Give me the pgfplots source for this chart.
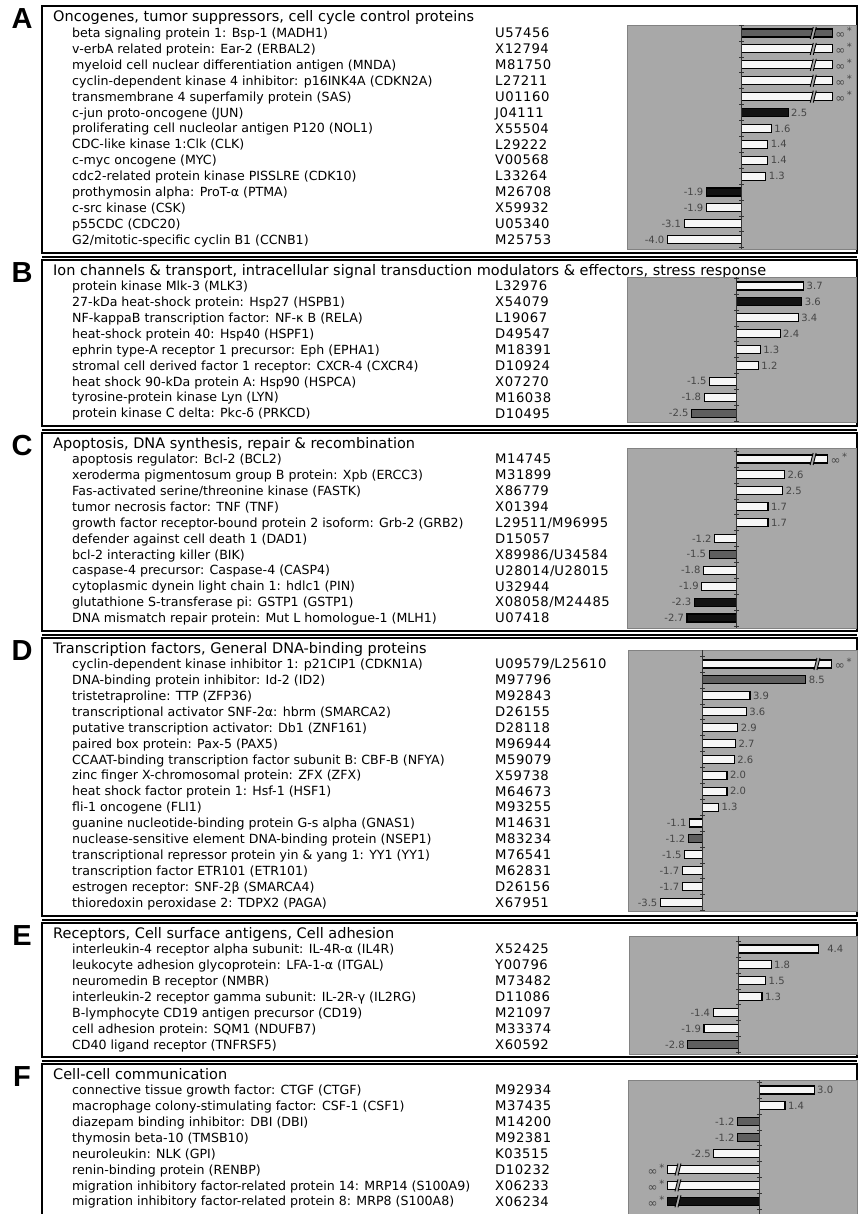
\documentclass[border=0pt]{standalone}
\usepackage{pgfplots}
\pgfplotsset{compat=1.18}
\usepackage{fontspec}
\setmainfont{DejaVu Sans}
\newfontfamily\accfont[LetterSpace=4]{DejaVu Sans}
\newfontfamily\letfont{Liberation Sans}
\definecolor{bg}{RGB}{168,168,168}
\definecolor{bgedge}{RGB}{130,130,130}
\definecolor{bwhite}{RGB}{246,246,246}
\definecolor{bgray}{RGB}{95,95,95}
\definecolor{bblack}{RGB}{18,18,18}
\definecolor{lbl}{RGB}{70,70,70}
\newcommand{\rowfont}{\fontsize{12.6}{14}\selectfont}
\newcommand{\accfnt}{\accfont\fontsize{13.2}{14}\selectfont}
\newcommand{\hdfont}{\fontsize{14.5}{16}\selectfont}
\newcommand{\infl}{{\fontsize{12}{12}\selectfont ∞}\,\raisebox{4pt}{*}}
\newcommand{\infr}{\raisebox{4pt}{*}\,{\fontsize{12}{12}\selectfont ∞}}
\pgfplotsset{
 panel/.style={anchor=north west, scale only axis, clip=false, xbar, bar width=8pt, bar shift=0pt,
   y dir=reverse, xtick=\empty, ytick=\empty,
   axis line style={draw=bgedge, line width=0.7pt},
   axis background/.style={fill=bg},
   nodes near coords, point meta=explicit symbolic,
   every node near coord/.append style={font=\fontsize{10}{10}\selectfont, text=lbl, inner sep=2.5pt}},
 wb/.style={fill=bwhite, draw=black, line width=1.1pt},
 gb/.style={fill=bgray, draw=black, line width=1.1pt},
 kb/.style={fill=bblack, draw=black, line width=1.1pt},
 R/.style={every node near coord/.append style={anchor=west}},
 L/.style={every node near coord/.append style={anchor=east}},
}
% zero line: ymin, ymax, tick list, tick half-length (data units)
\newcommand{\zl}[4]{\draw[line width=0.7pt, black!80] (axis cs:0,#1) -- (axis cs:0,#2);
  \pgfplotsinvokeforeach{#3}{\draw[line width=0.5pt, black!80] (axis cs:-#4,##1) -- (axis cs:#4,##1);}}
\newcommand{\brk}[2]{\fill[bg] (axis cs:#1,#2) ++(-3pt,-6pt) -- ++(3pt,12pt) -- ++(3pt,0pt) -- ++(-3pt,-12pt) -- cycle;
  \draw[line width=0.9pt] (axis cs:#1,#2) ++(-3pt,-6pt) -- ++(3pt,12pt) ++(3pt,0pt) -- ++(-3pt,-12pt);}
\begin{document}
\begin{tikzpicture}
\useasboundingbox (0,0) rectangle (861pt,-1214pt);
\begin{scope}[x=1pt,y=-1pt]
% panel boxes
\foreach \t/\b in {6/253, 260/426, 433/631, 638/916, 923/1057, 1064/1240}{
  \draw[line width=1.3pt] (42,\t) rectangle (857,\b);
  \draw[line width=1.3pt] (42,\b+4) -- (857,\b+4);
}
% letters
\foreach \l/\h in {A/18, B/272, C/445, D/650, E/935, F/1076}{
  \node[anchor=center, inner sep=0, text height=20.8pt, text depth=0pt, font=\letfont\bfseries\fontsize{29}{29}\selectfont] at (22,\h) {\l};
}
\tikzset{hd/.style={anchor=west, inner sep=0, text height=10.5pt, text depth=0pt, font=\hdfont},
         rw/.style={anchor=west, inner sep=0, text height=9.2pt, text depth=0pt, font=\rowfont},
         ac/.style={anchor=west, inner sep=0, text height=9.6pt, text depth=0pt, font=\accfnt}}
% headers
\node[hd] at (53,16) {Oncogenes, tumor suppressors, cell cycle control proteins};
\node[hd] at (53,270) {Ion channels \& transport, intracellular signal transduction modulators \& effectors, stress response};
\node[hd] at (53,443) {Apoptosis, DNA synthesis, repair \& recombination};
\node[hd] at (53,648) {Transcription factors, General DNA-binding proteins};
\node[hd] at (53,933) {Receptors, Cell surface antigens, Cell adhesion};
\node[hd] at (53,1074) {Cell-cell communication};
% panel A rows
\foreach \g/\a [count=\i] in {
 {beta signaling protein 1: Bsp-1 (MADH1)}/U57456,
 {v-erbA related protein: Ear-2 (ERBAL2)}/X12794,
 {myeloid cell nuclear differentiation antigen (MNDA)}/M81750,
 {cyclin-dependent kinase 4 inhibitor: p16INK4A (CDKN2A)}/L27211,
 {transmembrane 4 superfamily protein (SAS)}/U01160,
 {c-jun proto-oncogene (JUN)}/J04111,
 {proliferating cell nucleolar antigen P120 (NOL1)}/X55504,
 {CDC-like kinase 1:Clk (CLK)}/L29222,
 {c-myc oncogene (MYC)}/V00568,
 {cdc2-related protein kinase PISSLRE (CDK10)}/L33264,
 {prothymosin alpha: ProT-α (PTMA)}/M26708,
 {c-src kinase (CSK)}/X59932,
 {p55CDC (CDC20)}/U05340,
 {G2/mitotic-specific cyclin B1 (CCNB1)}/M25753}{
 \node[rw] at (72,{33+15.9*(\i-1)}) {\g};
 \node[ac] at (495,{33+15.9*(\i-1)}) {\a};
}
% panel B rows
\foreach \g/\a [count=\i] in {
 {protein kinase Mlk-3 (MLK3)}/L32976,
 {27-kDa heat-shock protein: Hsp27 (HSPB1)}/X54079,
 {NF-kappaB transcription factor: NF-κ B (RELA)}/L19067,
 {heat-shock protein 40: Hsp40 (HSPF1)}/D49547,
 {ephrin type-A receptor 1 precursor: Eph (EPHA1)}/M18391,
 {stromal cell derived factor 1 receptor: CXCR-4 (CXCR4)}/D10924,
 {heat shock 90-kDa protein A: Hsp90 (HSPCA)}/X07270,
 {tyrosine-protein kinase Lyn (LYN)}/M16038,
 {protein kinase C delta: Pkc-δ (PRKCD)}/D10495}{
 \node[rw] at (72,{286+15.9*(\i-1)}) {\g};
 \node[ac] at (495,{286+15.9*(\i-1)}) {\a};
}
% panel C rows
\foreach \g/\a [count=\i] in {
 {apoptosis regulator: Bcl-2 (BCL2)}/M14745,
 {xeroderma pigmentosum group B protein: Xpb (ERCC3)}/M31899,
 {Fas-activated serine/threonine kinase (FASTK)}/X86779,
 {tumor necrosis factor: TNF (TNF)}/X01394,
 {growth factor receptor-bound protein 2 isoform: Grb-2 (GRB2)}/L29511\slash M96995,
 {defender against cell death 1 (DAD1)}/D15057,
 {bcl-2 interacting killer (BIK)}/X89986\slash U34584,
 {caspase-4 precursor: Caspase-4 (CASP4)}/U28014\slash U28015,
 {cytoplasmic dynein light chain 1: hdlc1 (PIN)}/U32944,
 {glutathione S-transferase pi: GSTP1 (GSTP1)}/X08058\slash M24485,
 {DNA mismatch repair protein: Mut L homologue-1 (MLH1)}/U07418}{
 \node[rw] at (72,{459+15.9*(\i-1)}) {\g};
 \node[ac] at (495,{459+15.9*(\i-1)}) {\a};
}
% panel D rows
\foreach \g/\a [count=\i] in {
 {cyclin-dependent kinase inhibitor 1: p21CIP1 (CDKN1A)}/U09579\slash L25610,
 {DNA-binding protein inhibitor: Id-2 (ID2)}/M97796,
 {tristetraproline: TTP (ZFP36)}/M92843,
 {transcriptional activator SNF-2α: hbrm (SMARCA2)}/D26155,
 {putative transcription activator: Db1 (ZNF161)}/D28118,
 {paired box protein: Pax-5 (PAX5)}/M96944,
 {CCAAT-binding transcription factor subunit B: CBF-B (NFYA)}/M59079,
 {zinc finger X-chromosomal protein: ZFX (ZFX)}/X59738,
 {heat shock factor protein 1: Hsf-1 (HSF1)}/M64673,
 {fli-1 oncogene (FLI1)}/M93255,
 {guanine nucleotide-binding protein G-s alpha (GNAS1)}/M14631,
 {nuclease-sensitive element DNA-binding protein (NSEP1)}/M83234,
 {transcriptional repressor protein yin \& yang 1: YY1 (YY1)}/M76541,
 {transcription factor ETR101 (ETR101)}/M62831,
 {estrogen receptor: SNF-2β (SMARCA4)}/D26156,
 {thioredoxin peroxidase 2: TDPX2 (PAGA)}/X67951}{
 \node[rw] at (72,{664+15.9*(\i-1)}) {\g};
 \node[ac] at (495,{664+15.9*(\i-1)}) {\a};
}
% panel E rows
\foreach \g/\a [count=\i] in {
 {interleukin-4 receptor alpha subunit: IL-4R-α (IL4R)}/X52425,
 {leukocyte adhesion glycoprotein: LFA-1-α (ITGAL)}/Y00796,
 {neuromedin B receptor (NMBR)}/M73482,
 {interleukin-2 receptor gamma subunit: IL-2R-γ (IL2RG)}/D11086,
 {B-lymphocyte CD19 antigen precursor (CD19)}/M21097,
 {cell adhesion protein: SQM1 (NDUFB7)}/M33374,
 {CD40 ligand receptor (TNFRSF5)}/X60592}{
 \node[rw] at (72,{949+15.9*(\i-1)}) {\g};
 \node[ac] at (495,{949+15.9*(\i-1)}) {\a};
}
% panel F rows
\foreach \g/\a [count=\i] in {
 {connective tissue growth factor: CTGF (CTGF)}/M92934,
 {macrophage colony-stimulating factor: CSF-1 (CSF1)}/M37435,
 {diazepam binding inhibitor: DBI (DBI)}/M14200,
 {thymosin beta-10 (TMSB10)}/M92381,
 {neuroleukin: NLK (GPI)}/K03515,
 {renin-binding protein (RENBP)}/D10232,
 {migration inhibitory factor-related protein 14: MRP14 (S100A9)}/X06233,
 {migration inhibitory factor-related protein 8: MRP8 (S100A8)}/X06234}{
 \node[rw] at (72,{1090+15.9*(\i-1)}) {\g};
 \node[ac] at (495,{1090+15.9*(\i-1)}) {\a};
}
\end{scope}

% ---------- Panel A ----------
\begin{axis}[panel, at={(627pt,-25pt)}, width=229pt, height=224pt,
  xmin=-6.17, xmax=6.15, ymin=0.497, ymax=14.585]
\addplot[gb,R] coordinates {(4.87,1) [\infl]};
\addplot[wb,R] coordinates {(4.87,2) [\infl] (4.87,3) [\infl] (4.87,4) [\infl] (4.87,5) [\infl]
  (1.6,7) [1.6] (1.4,8) [1.4] (1.4,9) [1.4] (1.3,10) [1.3]};
\addplot[wb,L] coordinates {(-1.9,12) [-1.9] (-3.1,13) [-3.1] (-4.0,14) [-4.0]};
\addplot[kb,R] coordinates {(2.5,6) [2.5]};
\addplot[kb,L] coordinates {(-1.9,11) [-1.9]};
\zl{0.497}{14.585}{0.5,1.5,...,14.5}{0.134}
\brk{3.85}{1}\brk{3.85}{2}\brk{3.85}{3}\brk{3.85}{4}\brk{3.85}{5}
\end{axis}

% ---------- Panel B ----------
\begin{axis}[panel, at={(627pt,-277pt)}, width=229pt, height=145pt,
  xmin=-6.06, xmax=6.59, ymin=0.434, ymax=9.553]
\addplot[wb,R] coordinates {(3.7,1) [3.7] (3.4,3) [3.4] (2.4,4) [2.4] (1.3,5) [1.3] (1.2,6) [1.2]};
\addplot[wb,L] coordinates {(-1.5,7) [-1.5] (-1.8,8) [-1.8]};
\addplot[kb,R] coordinates {(3.6,2) [3.6]};
\addplot[gb,L] coordinates {(-2.5,9) [-2.5]};
\zl{0.434}{9.553}{0.5,1.5,...,9.5}{0.138}
\end{axis}

% ---------- Panel C ----------
\begin{axis}[panel, at={(627pt,-448pt)}, width=229pt, height=180pt,
  xmin=-5.96, xmax=6.48, ymin=0.308, ymax=11.629]
\addplot[wb,R] coordinates {(4.93,1) [\infl] (2.6,2) [2.6] (2.5,3) [2.5] (1.7,4) [1.7] (1.7,5) [1.7]};
\addplot[wb,L] coordinates {(-1.2,6) [-1.2] (-1.8,8) [-1.8] (-1.9,9) [-1.9]};
\addplot[gb,L] coordinates {(-1.5,7) [-1.5]};
\addplot[kb,L] coordinates {(-2.3,10) [-2.3] (-2.7,11) [-2.7]};
\zl{0.308}{11.629}{0.5,1.5,...,11.5}{0.136}
\brk{4.15}{1}
\end{axis}

% ---------- Panel D ----------
\begin{axis}[panel, at={(628pt,-650pt)}, width=229pt, height=261pt,
  xmin=-6.17, xmax=12.73, ymin=0.119, ymax=16.535]
\addplot[wb,R] coordinates {(10.66,1) [\infl] (3.9,3) [3.9] (3.6,4) [3.6] (2.9,5) [2.9] (2.7,6) [2.7]
  (2.6,7) [2.6] (2.0,8) [2.0] (2.0,9) [2.0] (1.3,10) [1.3]};
\addplot[wb,L] coordinates {(-1.1,11) [-1.1] (-1.5,13) [-1.5]
  (-1.7,14) [-1.7] (-1.7,15) [-1.7] (-3.5,16) [-3.5]};
\addplot[gb,R] coordinates {(8.5,2) [8.5]};
\addplot[gb,L] coordinates {(-1.2,12) [-1.2]};
\zl{0.119}{16.535}{0.5,1.5,...,16.5}{0.207}
\brk{9.42}{1}
\end{axis}

% ---------- Panel E ----------
\begin{axis}[panel, at={(629pt,-936pt)}, width=228pt, height=118pt,
  xmin=-6.04, xmax=6.54, ymin=0.182, ymax=7.604]
\addplot[wb,R] coordinates {(4.4,1) [\hspace{6pt}4.4] (1.8,2) [1.8] (1.5,3) [1.5] (1.3,4) [1.3]};
\addplot[wb,L] coordinates {(-1.4,5) [-1.4] (-1.9,6) [-1.9]};
\addplot[gb,L] coordinates {(-2.8,7) [-2.8]};
\zl{0.182}{7.604}{0.5,1.5,...,7.5}{0.138}
\end{axis}

% ---------- Panel F ----------
\begin{axis}[panel, at={(628pt,-1080pt)}, width=229pt, height=145pt,
  xmin=-7.21, xmax=5.35, ymin=0.371, ymax=9.49]
\addplot[wb,R] coordinates {(3.0,1) [3.0] (1.4,2) [1.4]};
\addplot[wb,L] coordinates {(-2.5,5) [-2.5] (-5.05,6) [\infl] (-5.05,7) [\infl]};
\addplot[gb,L] coordinates {(-1.2,3) [-1.2] (-1.2,4) [-1.2]};
\addplot[kb,L] coordinates {(-5.05,8) [\infl]};
\zl{0.371}{9.49}{0.5,1.5,...,9.5}{0.137}
\brk{-4.47}{6}\brk{-4.47}{7}\brk{-4.47}{8}
\end{axis}
\end{tikzpicture}
\end{document}
